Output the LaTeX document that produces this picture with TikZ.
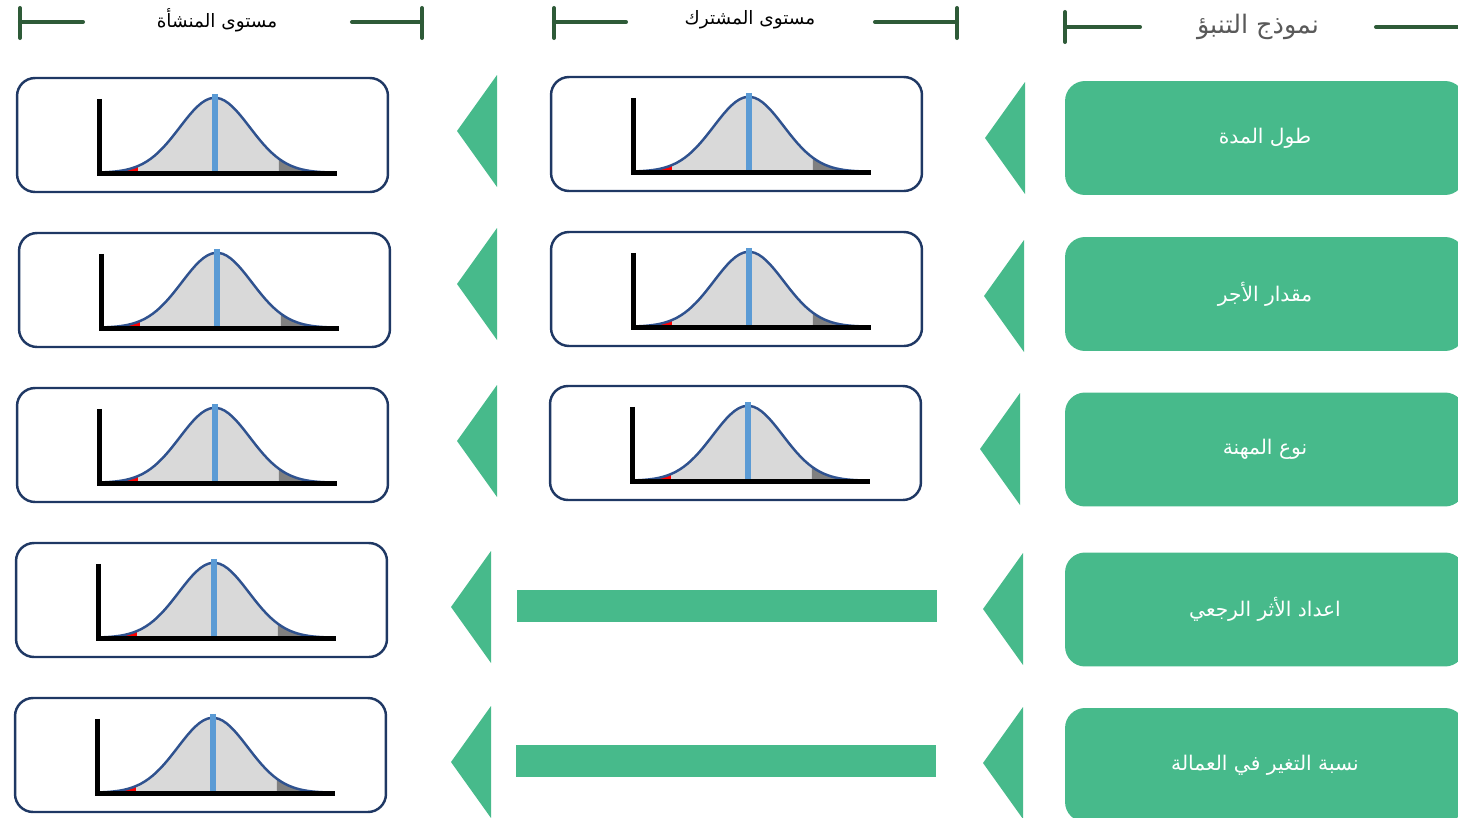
\documentclass[tikz,border=0pt]{standalone}
\usepackage{fontspec}
\setmainfont{DejaVu Sans}
\newfontfamily\arabicfont[Script=Arabic]{DejaVu Sans}
\TeXXeTstate=1
\usetikzlibrary{positioning}
\definecolor{Leaf}{HTML}{47BA8B}
\definecolor{Pine}{HTML}{2E5B38}
\definecolor{Navy}{HTML}{1F3864}
\definecolor{Curve}{HTML}{2F528F}
\definecolor{Sky}{HTML}{5B9BD5}
\definecolor{Ash}{HTML}{D9D9D9}
\definecolor{Slate}{HTML}{808080}
\definecolor{Smoke}{HTML}{595959}

\tikzset{
  pics/bellchart/.style={code={
    \fill[Ash] plot[domain=-77:64,samples=40] (\x,{-75*exp(-(\x)*(\x)/2450)}) -- (64,0) -- (-77,0) -- cycle;
    \fill[red] plot[domain=-98:-77,samples=8] (\x,{-75*exp(-(\x)*(\x)/2450)}) -- (-77,0) -- (-98,0) -- cycle;
    \fill[Slate] plot[domain=64:88,samples=8] (\x,{-75*exp(-(\x)*(\x)/2450)}) -- (88,0) -- (64,0) -- cycle;
    \draw[Curve, line width=1.4pt] plot[domain=-111:119,samples=60] (\x,{-75*exp(-(\x)*(\x)/2450)});
    \draw[Sky, line width=3.3pt] (0,-79) -- (0,1);
    \draw[black, line width=2.8pt] (-115,-74) |- (122,1);
  }},
  pics/pointer/.style={code={
    \fill[Leaf] (0,0) -- (40,-56) -- (40,56) -- cycle;
  }}
}

\begin{document}
\begin{tikzpicture}[x=0.02cm, y=-0.02cm,
    chartbox/.style={draw=Navy, line width=1.4pt, rounded corners=0.36cm, minimum width=7.42cm, minimum height=2.28cm},
    modelbox/.style={fill=Leaf, rounded corners=0.4cm, minimum width=8cm, minimum height=2.28cm, text=white, font=\arabicfont\fontsize{11.5}{13}\selectfont},
    hdr/.style={font=\arabicfont\fontsize{10.5}{13}\selectfont},
    hdrbig/.style={text=Smoke, font=\arabicfont\fontsize{14.5}{16}\selectfont},
    rangeline/.style={Pine, line width=2.3pt, line cap=round}]
  \useasboundingbox (0,0) rectangle (1458,818);
  \clip (0,0) rectangle (1458,818);

  % column headers
  \node[hdr] (hSite) at (217,20) {\beginR مستوى المنشأة\endR};
  \draw[rangeline] (20,8) -- (20,38) (20,22) -- (83,22) (352,22) -- (422,22) (422,8) -- (422,38);
  \node[hdr] (hMember) at (750,20) {\beginR مستوى المشترك\endR};
  \draw[rangeline] (554,8) -- (554,38) (554,22) -- (626,22) (875,22) -- (957,22) (957,8) -- (957,38);
  \node[hdrbig] (hModel) at (1258,27) {\beginR نموذج التنبؤ\endR};
  \draw[rangeline] (1065,12) -- (1065,42) (1065,27) -- (1140,27) (1376,27) -- (1470,27);

  % prediction model inputs
  \node[modelbox] (m1) at (1265,138) {\beginR طول المدة\endR};
  \node[modelbox] (m2) at (1265,294) {\beginR مقدار الأجر\endR};
  \node[modelbox] (m3) at (1265,449.5) {\beginR نوع المهنة\endR};
  \node[modelbox] (m4) at (1265,609.5) {\beginR اعداد الأثر الرجعي\endR};
  \node[modelbox] (m5) at (1265,765) {\beginR نسبة التغير في العمالة\endR};

  \pic at (985,138) {pointer};
  \pic at (984,296) {pointer};
  \pic at (980,449) {pointer};
  \pic at (983,609) {pointer};
  \pic at (983,763) {pointer};

  % member level
  \node[chartbox] (c1) at (736.5,134) {};
  \node[chartbox] (c2) at (736.5,289) {};
  \node[chartbox] (c3) at (735.5,443) {};
  \pic at ([shift={(199,96)}]c1.north west) {bellchart};
  \pic at ([shift={(199,96)}]c2.north west) {bellchart};
  \pic at ([shift={(199,96)}]c3.north west) {bellchart};
  \fill[Leaf] (517,590) rectangle (937,622);
  \fill[Leaf] (516,745) rectangle (936,777);

  \pic at (457,131) {pointer};
  \pic at (457,284) {pointer};
  \pic at (457,441) {pointer};
  \pic at (451,607) {pointer};
  \pic at (451,762) {pointer};

  % site level
  \node[chartbox] (s1) at (202.5,135) {};
  \node[chartbox] (s2) at (204.5,290) {};
  \node[chartbox] (s3) at (202.5,445) {};
  \node[chartbox] (s4) at (201.5,600) {};
  \node[chartbox] (s5) at (200.5,755) {};
  \pic at ([shift={(199,96)}]s1.north west) {bellchart};
  \pic at ([shift={(199,96)}]s2.north west) {bellchart};
  \pic at ([shift={(199,96)}]s3.north west) {bellchart};
  \pic at ([shift={(199,96)}]s4.north west) {bellchart};
  \pic at ([shift={(199,96)}]s5.north west) {bellchart};
\end{tikzpicture}
\end{document}
